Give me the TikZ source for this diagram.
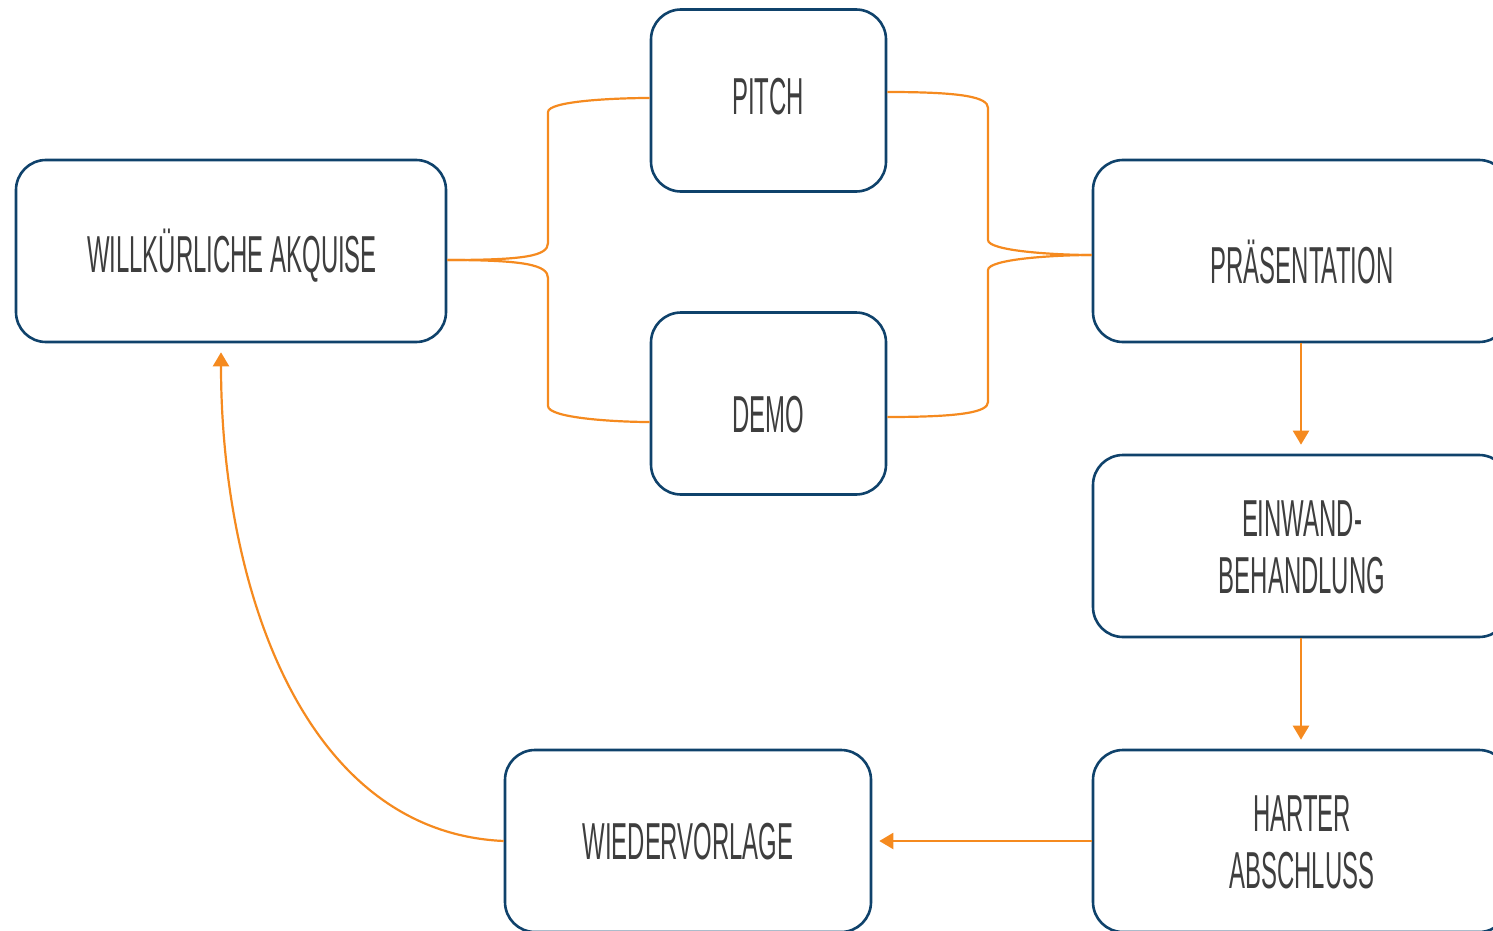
\documentclass[tikz,border=0pt]{standalone}
\usepackage{fontspec}
\setmainfont{Liberation Sans}[FakeStretch=0.46]
\usetikzlibrary{arrows.meta,calc}
\definecolor{navy}{HTML}{0F426B}
\definecolor{flow}{HTML}{F58A1F}
\definecolor{ink}{HTML}{3E3E3E}
\begin{document}
\begin{tikzpicture}[x=1pt,y=-1pt,
  box/.style={draw=navy,line width=2.6pt,rounded corners=30pt,inner sep=0pt,
              minimum height=182pt},
  lbl/.style={text=ink,font=\fontsize{52}{57}\selectfont,align=center,inner sep=0pt},
  link/.style={draw=flow,line width=2.2pt},
  arrowlink/.style={link,-{Triangle[width=16pt,length=14pt]}}]
\useasboundingbox (0,0) rectangle (1493,931);
\clip (0,0) rectangle (1493,931);

% boxes
\node[box,minimum width=430pt] (willk) at (231,251) {};
\node[box,minimum width=235pt] (pitch) at (768.5,100.5) {};
\node[box,minimum width=235pt] (demo)  at (768.5,403.5) {};
\node[box,minimum width=416pt] (pres)  at (1301,251) {};
\node[box,minimum width=416pt] (einw)  at (1301,546) {};
\node[box,minimum width=416pt] (hart)  at (1301,841) {};
\node[box,minimum width=366pt] (wied)  at (688,841) {};

% labels
\node[lbl] (twillk) at (232,256) {WILLKÜRLICHE AKQUISE};
\node[lbl] (tpitch) at (768,97)  {PITCH};
\node[lbl] (tdemo)  at (768,415) {DEMO};
\node[lbl] (tpres)  at (1302,262) {PRÄSENTATION};
\node[lbl] (teinw)  at (1302,547) {EINWAND-\\BEHANDLUNG};
\node[lbl] (thart)  at (1302,842) {HARTER\\ABSCHLUSS};
\node[lbl] (twied)  at (688,842) {WIEDERVORLAGE};

% brace-shaped branches
\coordinate (wout) at ($(willk.east)+(0,9)$);
\coordinate (pin)  at ($(pres.west)+(0,4)$);
\path[link] (wout) .. controls (525,260) and (548,256) .. (548,243)
  -- (548,112) .. controls (548,101) and (615,98) .. (pitch.west |- 0,98);
\path[link] (wout) .. controls (525,260) and (548,265) .. (548,278)
  -- (548,406) .. controls (548,418) and (615,422) .. (demo.west |- 0,422);
\path[link] (pitch.east |- 0,92) .. controls (962,92) and (988,97) .. (988,108)
  -- (988,240) .. controls (988,251) and (1055,255) .. (pin);
\path[link] (demo.east |- 0,417) .. controls (962,417) and (988,412) .. (988,402)
  -- (988,270) .. controls (988,259) and (1055,255) .. (pin);

% main flow
\draw[arrowlink,shorten >=9pt] (pres.south) -- (einw.north);
\draw[arrowlink,shorten >=9pt] (einw.south) -- (hart.north);
\draw[arrowlink,shorten >=7pt] (hart.west) -- (wied.east);
\draw[arrowlink,shorten >=9pt] (wied.west)
  .. controls (300,832) and (221,580) .. ($(willk.south)+(-10,0)$);
\end{tikzpicture}
\end{document}
